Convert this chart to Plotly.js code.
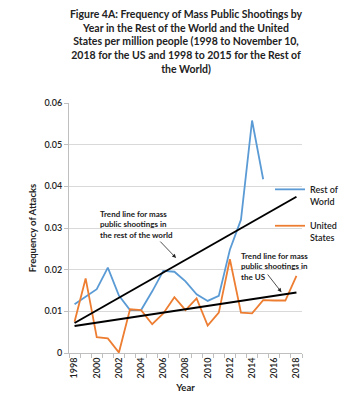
<!DOCTYPE html>
<html>
<head>
<meta charset="utf-8">
<script src="https://cdn.plot.ly/plotly-3.0.1.min.js"></script>
<style>html,body{margin:0;padding:0;background:#fff;}#chart{width:355px;height:400px;}</style>
</head>
<body>
<div id="chart"></div>
<script>
// Data
const worldYears = [1998,1999,2000,2001,2002,2003,2004,2005,2006,2007,2008,2009,2010,2011,2012,2013,2014,2015];
const worldValues = [0.0117,0.0135,0.0153,0.0205,0.0138,0.0103,0.0103,0.0148,0.0197,0.0195,0.0172,0.0141,0.0125,0.0137,0.0248,0.0320,0.0558,0.0417];
const usYears = [1998,1999,2000,2001,2002,2003,2004,2005,2006,2007,2008,2009,2010,2011,2012,2013,2014,2015,2016,2017,2018];
const usValues = [0.0075,0.0179,0.0038,0.0035,0.0001,0.0105,0.0103,0.0069,0.0095,0.0134,0.0103,0.0131,0.0066,0.0097,0.0225,0.0097,0.0095,0.0127,0.0126,0.0126,0.0185];
const trendYears = [1998, 2018];
const worldTrend = [0.0072, 0.0375];
const usTrend = [0.0065, 0.0145];
const xTickVals = [1998,2000,2002,2004,2006,2008,2010,2012,2014,2016,2018];
const xTickText = ['1998','2000','2002','2004','2006','2008','2010','2012','2014','2016','2018'];

const FONT = 'Lato, "Open Sans", "DejaVu Sans", sans-serif';

const traces = [
  {x: worldYears, y: worldValues, type:'scatter', mode:'lines', name:'Rest of<br>World',
   line:{color:'#5b9bd5', width:1.8}, legendgroup:'a'},
  {x: usYears, y: usValues, type:'scatter', mode:'lines', name:'United<br>States',
   line:{color:'#ed7d31', width:1.8}, legendgroup:'b'},
  {x: trendYears, y: worldTrend, type:'scatter', mode:'lines', showlegend:false,
   line:{color:'#000', width:2}},
  {x: trendYears, y: usTrend, type:'scatter', mode:'lines', showlegend:false,
   line:{color:'#000', width:2}},
  {x: [], y: [], xaxis:'x2', type:'scatter', mode:'lines', showlegend:false, hoverinfo:'skip'}
];

const layout = {
  width:355, height:400,
  margin:{l:69, r:52, t:103, b:47},
  paper_bgcolor:'#fff', plot_bgcolor:'#fff',
  font:{family:FONT, color:'#333', size:9},
  showlegend:true,
  title:{
    text:'<b>Figure 4A: Frequency of Mass Public Shootings by<br>Year in the Rest of the World and the United<br>States per million people (1998 to November 10,<br>2018 for the US and 1998 to 2015 for the Rest of<br>the World)</b>',
    font:{family:FONT, size:10.5, color:'#222'},
    x:0.524, xref:'container', xanchor:'center',
    y:1-18/400, yref:'container', yanchor:'top'
  },
  xaxis:{
    range:[1997.5, 2018.5], tickmode:'array', tickvals:xTickVals, ticktext:xTickText,
    tickangle:-90, ticks:'', showgrid:false, zeroline:false,
    showline:true, linecolor:'#bfbfbf', linewidth:1,
    tickfont:{family:FONT, size:9, color:'#222', weight:600},
    title:{text:'<b>Year</b>', font:{family:FONT, size:9.5, color:'#222'}, standoff:6},
    fixedrange:true
  },
  xaxis2:{
    overlaying:'x', anchor:'y', side:'bottom', range:[1997.5, 2018.5],
    tickmode:'linear', tick0:1997.5, dtick:1, ticks:'outside', ticklen:4,
    tickcolor:'#bfbfbf', showticklabels:false, showgrid:false, zeroline:false, showline:false
  },
  yaxis:{
    range:[0, 0.06], dtick:0.01, tick0:0,
    showgrid:true, gridcolor:'#d9d9d9', gridwidth:1, zeroline:false,
    showline:true, linecolor:'#bfbfbf', linewidth:1,
    ticks:'outside', ticklen:4, tickcolor:'#bfbfbf',
    tickfont:{family:FONT, size:9, color:'#222', weight:600},
    title:{text:'<b>Frequency of Attacks</b>', font:{family:FONT, size:9.5, color:'#222'}, standoff:6},
    fixedrange:true
  },
  legend:{
    x:0.859, xanchor:'left', y:(353-177)/250, yanchor:'top',
    bgcolor:'rgba(0,0,0,0)', borderwidth:0,
    font:{family:FONT, size:9, color:'#222', weight:600},
    traceorder:'grouped', tracegroupgap:10, valign:'top'
  },
  annotations:[
    {x:2000.15, y:0.0350, xref:'x', yref:'y', xanchor:'left', yanchor:'top', align:'left', showarrow:false,
     text:'<b>Trend line for mass<br>public shootings in<br>the rest of the world</b>',
     font:{family:FONT, size:8, color:'#222'}},
    {x:2007.15, y:0.0228, ax:2005.6, ay:0.0271, xref:'x', yref:'y', axref:'x', ayref:'y',
     text:'', showarrow:true, arrowhead:2, arrowsize:1, arrowwidth:0.8, arrowcolor:'#222'},
    {x:2012.8, y:0.0249, xref:'x', yref:'y', xanchor:'left', yanchor:'top', align:'left', showarrow:false,
     text:'<b>Trend line for mass<br>public shootings in<br>the US</b>',
     font:{family:FONT, size:8, color:'#222'}},
    {x:2016.65, y:0.0146, ax:2015.3, ay:0.0192, xref:'x', yref:'y', axref:'x', ayref:'y',
     text:'', showarrow:true, arrowhead:2, arrowsize:1, arrowwidth:0.8, arrowcolor:'#222'}
  ]
};

Plotly.newPlot('chart', traces, layout, {displayModeBar:false, staticPlot:true});
</script>
</body>
</html>
